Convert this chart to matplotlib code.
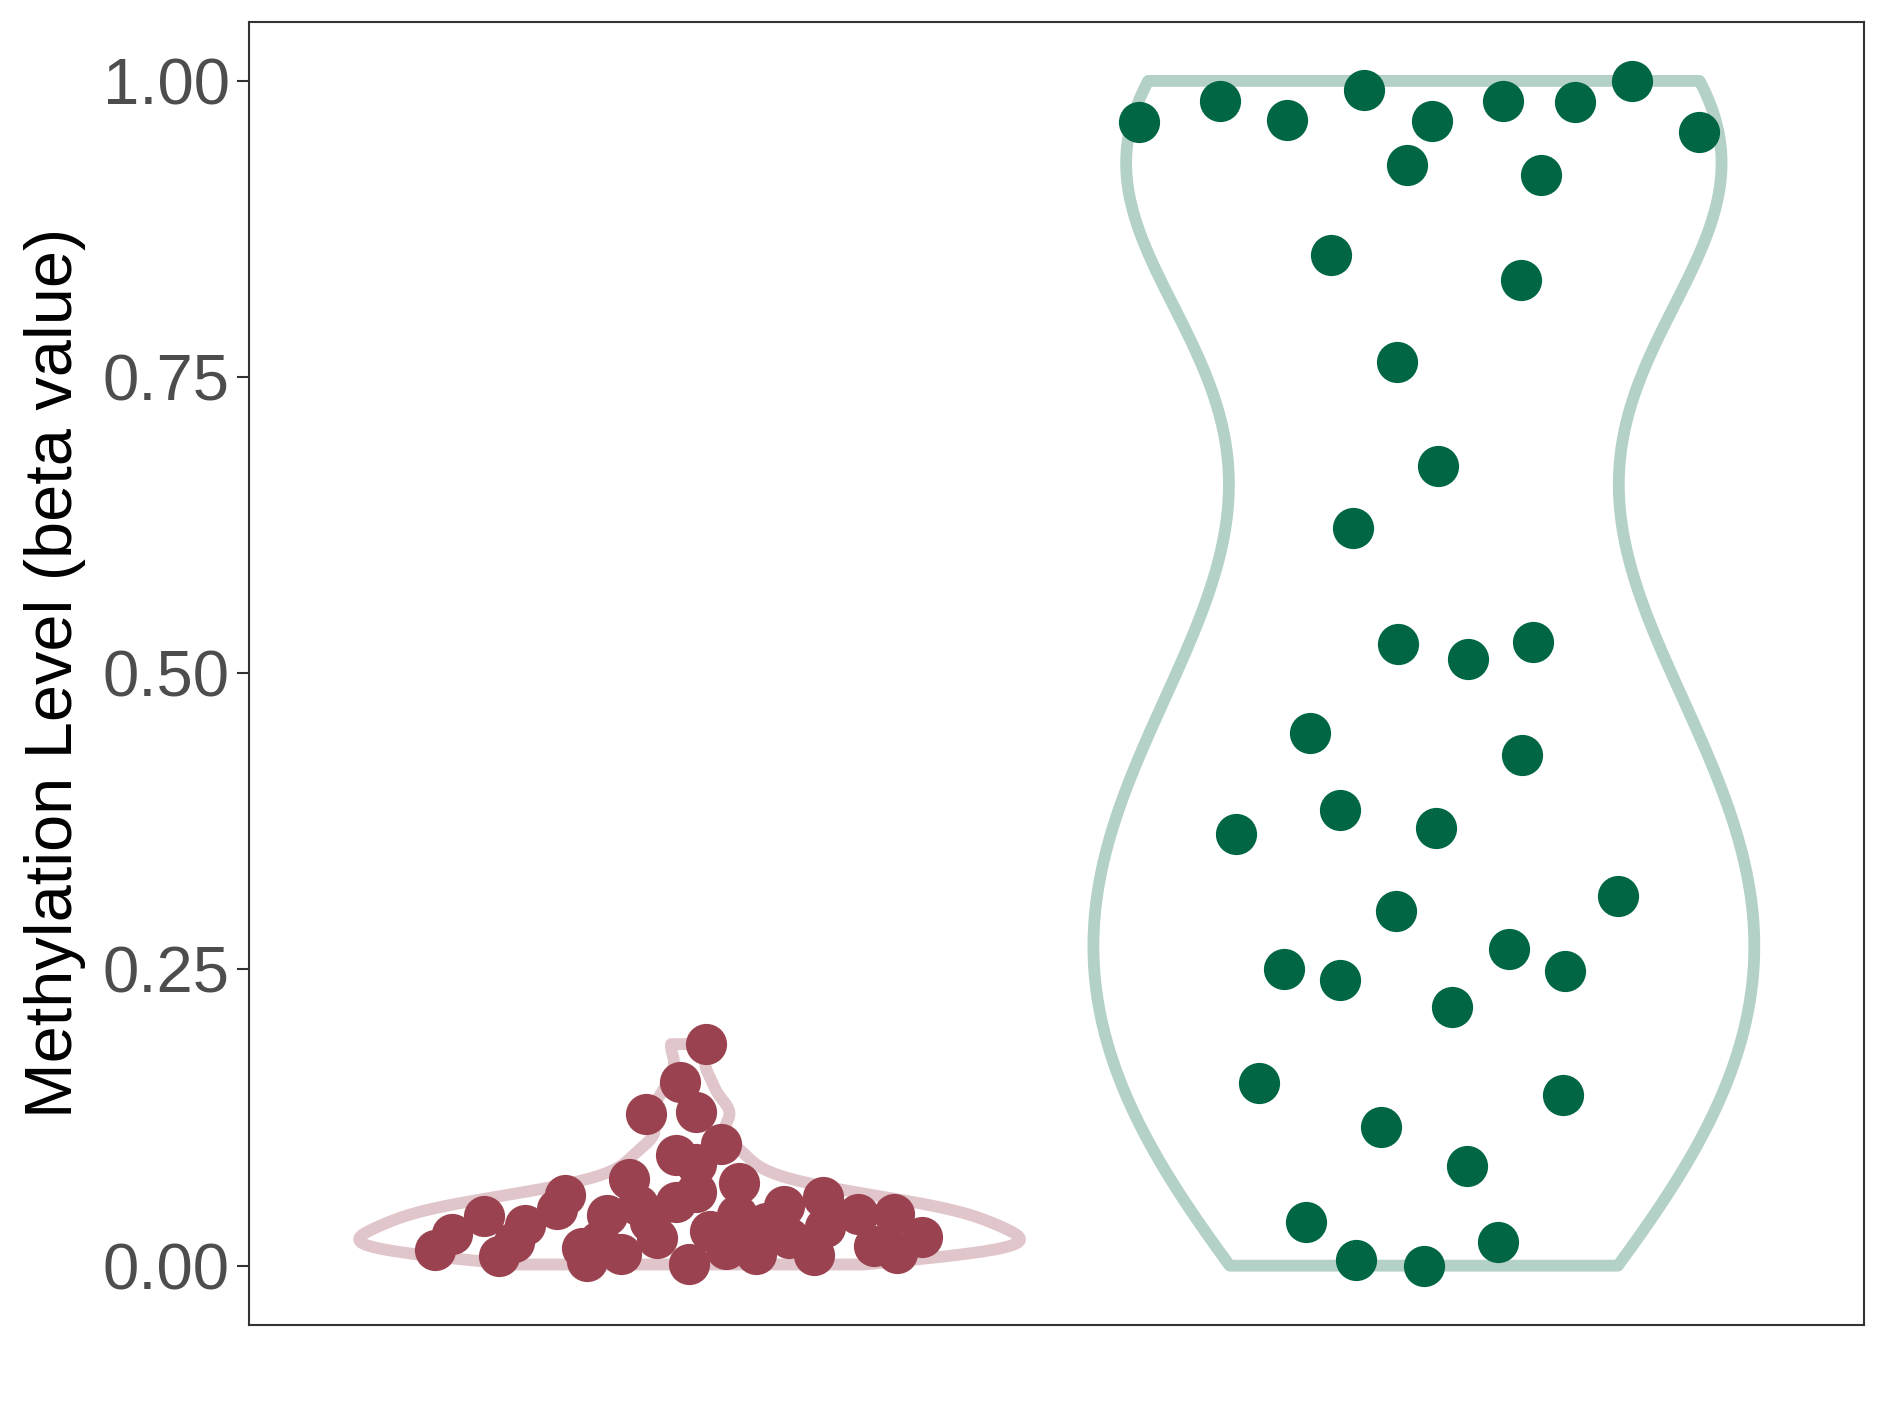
import numpy as np
import matplotlib
matplotlib.use("Agg")
import matplotlib.pyplot as plt

# group 1 (red): jittered x, beta value
red_x = [0.653, 0.676, 0.720, 0.741, 0.761, 0.776, 0.820, 0.830, 0.853, 0.861,
         0.887, 0.907, 0.918, 0.930, 0.955, 0.941, 0.987, 1.009, 1.023, 0.982,
         1.009, 1.043, 0.982, 1.009, 0.999, 1.028, 1.050, 1.064, 1.068, 1.091,
         1.104, 1.128, 1.135, 1.169, 1.184, 1.182, 1.230, 1.251, 1.278, 1.283,
         1.317, 0.877, 0.946, 1.078]
red_y = [0.013, 0.027, 0.042, 0.008, 0.020, 0.034, 0.048, 0.060, 0.015, 0.004,
         0.043, 0.010, 0.073, 0.051, 0.023, 0.128, 0.155, 0.130, 0.187, 0.093,
         0.086, 0.103, 0.054, 0.062, 0.001, 0.029, 0.014, 0.043, 0.070, 0.010,
         0.036, 0.050, 0.023, 0.009, 0.033, 0.058, 0.044, 0.017, 0.044, 0.011,
         0.024, 0.021, 0.037, 0.021]

# group 2 (green)
green_x = [1.612, 1.722, 1.814, 1.918, 2.011, 1.977, 2.108, 2.206, 2.283, 2.375,
           2.159, 1.873, 2.132, 1.963, 2.019, 1.903, 1.965, 2.060, 2.149, 1.845,
           2.134, 1.744, 1.886, 2.016, 2.264, 1.962, 1.809, 1.886, 2.116, 2.192,
           2.039, 1.775, 2.190, 1.941, 2.059, 1.839, 1.908, 2.000, 2.101]
green_y = [0.965, 0.983, 0.967, 0.992, 0.966, 0.929, 0.983, 0.982, 1.000, 0.957,
           0.921, 0.853, 0.832, 0.763, 0.675, 0.623, 0.525, 0.512, 0.526, 0.450,
           0.431, 0.364, 0.385, 0.369, 0.312, 0.299, 0.250, 0.241, 0.267, 0.249,
           0.218, 0.154, 0.144, 0.117, 0.084, 0.037, 0.005, 0.000, 0.020]

y_ticks = [0.0, 0.25, 0.5, 0.75, 1.0]
y_tick_labels = ["0.00", "0.25", "0.50", "0.75", "1.00"]

plt.rcParams['font.family'] = ['Liberation Sans', 'DejaVu Sans']


def nrd0_factor(y):
    # R's bw.nrd0 expressed as a factor of the sample std (for matplotlib's kde)
    y = np.asarray(y)
    sd = np.std(y, ddof=1)
    iqr = np.subtract(*np.percentile(y, [75, 25]))
    bw = 0.9 * min(sd, iqr / 1.34) * len(y) ** -0.2
    return bw / sd


fig = plt.figure(figsize=(18.89, 14.17), dpi=100)
ax = fig.add_axes([0.1318, 0.065, 0.987 - 0.1318, 0.9847 - 0.065])

groups = [(red_y, 1, "#E0C5CB"), (green_y, 2, "#B3D1C6")]
for yy, pos, col in groups:
    vp = ax.violinplot([yy], positions=[pos], widths=0.9, showextrema=False,
                       bw_method=nrd0_factor(yy), points=200)
    for b in vp['bodies']:
        b.set_facecolor('none')
        b.set_edgecolor(col)
        b.set_linewidth(8.5)
        b.set_alpha(1)
        b.set_joinstyle('round')

ax.scatter(red_x, red_y, s=880, color="#9A4250", linewidths=0, zorder=3)
ax.scatter(green_x, green_y, s=880, color="#006644", linewidths=0, zorder=3)

ax.set_xlim(0.4, 2.6)
ax.set_ylim(-0.05, 1.05)
ax.set_xticks([])
ax.set_yticks(y_ticks)
ax.set_yticklabels(y_tick_labels)
ax.tick_params(axis='y', labelsize=47, labelcolor="#4D4D4D", color="#333333",
               length=9, width=1.5, pad=5)
ax.set_ylabel("Methylation Level (beta value)", fontsize=48, color="black", labelpad=12)
for sp in ax.spines.values():
    sp.set_color("#333333")
    sp.set_linewidth(1.5)

plt.savefig("out.png", dpi=100)
